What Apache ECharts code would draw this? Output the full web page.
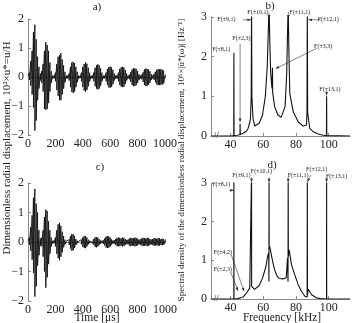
<!DOCTYPE html>
<html><head><meta charset="utf-8">
<script src="https://cdn.jsdelivr.net/npm/echarts@6/dist/echarts.min.js"></script>
<style>html,body{margin:0;padding:0;background:#fff}#c{width:352px;height:323px}</style>
</head><body><div id="c"></div>
<script>
// ---------- data ----------
const timeTicks = [0, 200, 400, 600, 800, 1000];
const freqTicks = [40, 60, 80, 100];
const dispTicks = [-2, -1, 0, 1, 2];
const specTicks = [0, 1, 2, 3];

const sampleTimes = [0,10,20,30,40,50,60,70,80,90,100,110,120,130,140,150,160,170,180,190,200,210,220,230,240,250,260,270,280,290,300,310,320,330,340,350,360,370,380,390,400,410,420,430,440,450,460,470,480,490,500,510,520,530,540,550,560,570,580,590,600,610,620,630,640,650,660,670,680,690,700,710,720,730,740,750,760,770,780,790,800,810,820,830,840,850,860,870,880,890,900,910,920,930,940,950,960,970,980,990,1000];

// panel a: upper / lower extremes of displacement
const aUpper = [0.03,0.15,0.55,0.9,1.55,1.8,1.3,0.7,0.35,0.12,0.2,0.45,0.9,1.2,1.1,0.9,0.5,0.2,0.05,0.05,0.15,0.45,0.7,0.75,0.82,0.6,0.4,0.18,0.05,0.05,0.12,0.35,0.5,0.52,0.48,0.35,0.18,0.05,0.04,0.15,0.35,0.45,0.5,0.46,0.32,0.15,0.05,0.05,0.15,0.32,0.4,0.44,0.4,0.3,0.15,0.05,0.05,0.15,0.28,0.34,0.36,0.33,0.25,0.12,0.05,0.06,0.15,0.28,0.33,0.35,0.33,0.24,0.12,0.05,0.08,0.16,0.26,0.3,0.3,0.28,0.2,0.1,0.05,0.08,0.16,0.26,0.29,0.28,0.26,0.2,0.1,0.05,0.1,0.18,0.25,0.27,0.27,0.27,0.25,0.22,0.05];
const aLower = [-0.03,-0.1,-0.3,-0.6,-1.05,-1.85,-1.5,-0.8,-0.4,-0.12,-0.2,-0.5,-1.1,-1.13,-1.1,-0.9,-0.5,-0.2,-0.05,-0.05,-0.15,-0.45,-0.65,-0.8,-0.8,-0.6,-0.4,-0.18,-0.05,-0.05,-0.12,-0.35,-0.52,-0.55,-0.5,-0.35,-0.18,-0.05,-0.04,-0.15,-0.35,-0.47,-0.51,-0.45,-0.32,-0.15,-0.05,-0.05,-0.15,-0.32,-0.4,-0.43,-0.4,-0.3,-0.15,-0.05,-0.05,-0.15,-0.28,-0.36,-0.37,-0.34,-0.25,-0.12,-0.05,-0.06,-0.15,-0.28,-0.33,-0.35,-0.34,-0.24,-0.12,-0.05,-0.08,-0.17,-0.28,-0.32,-0.31,-0.28,-0.2,-0.1,-0.05,-0.08,-0.17,-0.28,-0.31,-0.3,-0.27,-0.2,-0.1,-0.05,-0.1,-0.18,-0.26,-0.28,-0.28,-0.27,-0.26,-0.22,-0.05];

// panel c
const cUpper = [0.03,0.15,0.5,0.9,1.5,1.8,1.3,1.0,0.4,0.12,0.15,0.4,0.85,1.1,1.05,0.7,0.4,0.15,0.04,0.05,0.15,0.4,0.6,0.65,0.55,0.35,0.2,0.08,0.03,0.03,0.08,0.2,0.27,0.26,0.2,0.1,0.04,0.03,0.03,0.08,0.15,0.2,0.2,0.15,0.08,0.04,0.03,0.05,0.1,0.16,0.17,0.15,0.1,0.05,0.04,0.06,0.12,0.18,0.2,0.19,0.15,0.09,0.05,0.06,0.1,0.14,0.15,0.14,0.12,0.15,0.14,0.1,0.07,0.08,0.12,0.14,0.13,0.12,0.15,0.14,0.11,0.08,0.09,0.12,0.14,0.13,0.12,0.14,0.13,0.1,0.08,0.1,0.13,0.12,0.11,0.13,0.12,0.1,0.11,0.1,0.05];
const cLower = [-0.03,-0.1,-0.3,-0.6,-1.05,-1.85,-1.5,-0.8,-0.45,-0.12,-0.15,-0.5,-1.0,-1.55,-1.2,-0.75,-0.4,-0.15,-0.04,-0.05,-0.15,-0.4,-0.55,-0.62,-0.5,-0.35,-0.18,-0.08,-0.03,-0.03,-0.1,-0.22,-0.3,-0.28,-0.2,-0.1,-0.04,-0.03,-0.03,-0.08,-0.16,-0.2,-0.21,-0.15,-0.08,-0.04,-0.03,-0.05,-0.1,-0.17,-0.18,-0.15,-0.1,-0.05,-0.04,-0.06,-0.12,-0.19,-0.2,-0.19,-0.15,-0.09,-0.05,-0.06,-0.1,-0.14,-0.15,-0.14,-0.12,-0.15,-0.14,-0.1,-0.07,-0.08,-0.12,-0.14,-0.13,-0.12,-0.15,-0.14,-0.11,-0.08,-0.09,-0.12,-0.14,-0.13,-0.12,-0.14,-0.13,-0.1,-0.08,-0.1,-0.13,-0.12,-0.11,-0.13,-0.12,-0.1,-0.11,-0.1,-0.05];

// panel b spectrum
const specBFreq = [28,40,41.9,42,42.1,44,45.7,45.8,45.9,47.6,49.6,50.7,52.1,52.6,52.8,53.0,53.7,54.7,55.5,57.5,59.5,61.2,62.4,63.0,63.5,64.0,64.5,65.3,65.5,65.6,65.7,66.9,68.9,70.9,71.9,73.3,74.3,74.8,75.2,75.6,76.2,78.3,81.3,84.4,86.4,86.7,86.9,87.1,88.4,90.5,93.5,96.6,98.6,98.7,98.8,113];
const specBVal  = [0,0,0.01,2.1,0.01,0.02,0.03,0.31,0.04,0.07,0.12,0.19,0.41,1.0,3.3,1.0,0.45,0.25,0.21,0.32,0.53,0.99,1.75,2.6,3.3,2.3,1.58,1.2,1.15,1.72,1.1,0.74,0.53,0.47,0.49,0.74,1.58,2.6,3.3,2.2,1.07,0.61,0.36,0.25,0.28,0.6,3.3,0.6,0.19,0.11,0.05,0.02,0.01,1.0,0.01,0];

// panel d spectrum
const specDFreq = [28,41.95,42.0,42.05,44.5,46,47.6,49.6,50.6,51.7,52.3,52.75,52.8,52.85,53.5,54.6,55.8,57.5,59.5,61.6,62.6,63.3,63.42,63.5,63.58,63.9,64.9,65.9,66.9,68.3,69.6,72,74.0,74.8,75.1,75.2,75.3,75.8,77.2,79.2,81.3,83.3,85.4,86.8,86.9,87.0,87.4,89.5,92.5,95,98.65,98.7,98.75,113];
const specDVal  = [0,0,3.3,0,0.01,0.03,0.05,0.15,0.2,0.28,0.33,0.33,3.3,0.33,0.32,0.25,0.2,0.35,0.54,0.84,1.1,1.2,0.45,3.3,1.3,1.36,1.14,0.93,0.76,0.6,0.53,0.52,0.55,1.06,0.45,3.3,1.1,1.27,0.89,0.63,0.37,0.2,0.07,0.05,3.3,0.1,0.26,0.11,0.03,0.01,0,3.3,0,0];

// annotations (data coordinates)
const annBText = ['F(±8,1)','F(±2,3)','F(±9,1)','F(±10,1)','F(±11,1)','F(±12,1)','F(±3,3)','F(±13,1)'];
const annBLabel = [[34.3,2.18],[46.6,2.46],[37.4,2.93],[56.7,3.11],[82.3,3.11],[99.7,2.93],[96.6,2.25],[100.7,1.18]];
const annBFrom = [null,[45.8,2.32],[47.6,2.93],[63.5,3.1],[75.3,3.12],[94.8,2.93],[92.6,2.21],[98.7,1.13]];
const annBTo   = [null,[45.8,0.35],[52.4,2.93],[63.5,2.96],[75.3,2.96],[87.6,2.93],[67.6,1.7],[98.7,1.02]];

const annDText = ['F(±8,1)','F(±9,1)','F(±10,1)','F(±11,1)','F(±12,1)','F(±13,1)','F(±4,2)','F(±2,3)'];
const annDLabel = [[34.3,2.97],[46.6,3.19],[58.8,3.3],[81.3,3.19],[92.6,3.36],[104.8,3.17],[35.3,1.2],[35.3,0.76]];
const annDFrom = [[39.2,2.81],[52.8,3.15],[63.5,3.15],[75.2,3.15],[89.1,3.21],[98.7,3.15],[40.4,1.14],[40.0,0.7]];
const annDTo   = [[41.9,2.81],[52.8,3.02],[63.5,3.02],[75.2,3.02],[86.9,3.03],[98.7,3.02],[48.2,0.2],[44.5,0.21]];

// ---------- build ----------
const FONT = 'Liberation Serif';
const TXT = '#222';
const AX = '#8a8a8a';

function zig(times, up, lo) {
  const out = [];
  for (let i = 0; i < times.length; i++) { out.push([times[i], up[i]]); out.push([times[i], lo[i]]); }
  return out;
}
function pairs(xs, ys) { return xs.map((x, i) => [x, ys[i]]); }
const minus = v => String(v).replace('-', '\u2212');
const plain = v => String(v);

function xAx(gi, opts) {
  return Object.assign({
    gridIndex: gi, type: 'value',
    axisLine: { show: true, lineStyle: { color: AX, width: 1 } },
    axisTick: { show: true, inside: true, length: 3, lineStyle: { color: AX } },
    axisLabel: { margin: 3, fontFamily: FONT, fontSize: 12, color: TXT, formatter: plain },
    splitLine: { show: false }
  }, opts);
}
function yAx(gi, opts) {
  return Object.assign({
    gridIndex: gi, type: 'value',
    axisLine: { show: true, lineStyle: { color: AX, width: 1 } },
    axisTick: { show: true, inside: true, length: 3, lineStyle: { color: AX } },
    axisLabel: { margin: 4, fontFamily: FONT, fontSize: 12, color: TXT, formatter: minus },
    splitLine: { show: false }
  }, opts);
}

const chart = echarts.init(document.getElementById('c'), null, { renderer: 'canvas' });
chart.setOption({
  animation: false,
  backgroundColor: '#fff',
  grid: [
    { left: 28, top: 19, width: 137, height: 116 },
    { left: 211, top: 17, width: 139, height: 119 },
    { left: 28, top: 183, width: 137, height: 118 },
    { left: 211, top: 183, width: 139, height: 116 }
  ],
  xAxis: [
    xAx(0, { min: timeTicks[0], max: timeTicks[timeTicks.length - 1], interval: 200 }),
    xAx(1, { min: 28, max: 113, axisLabel: { margin: 3, fontFamily: FONT, fontSize: 12, color: TXT, formatter: plain, customValues: freqTicks }, axisTick: { show: true, inside: true, length: 3, lineStyle: { color: AX }, customValues: freqTicks } }),
    xAx(2, { min: timeTicks[0], max: timeTicks[timeTicks.length - 1], interval: 200 }),
    xAx(3, { min: 28, max: 113, axisLabel: { margin: 3, fontFamily: FONT, fontSize: 12, color: TXT, formatter: plain, customValues: freqTicks }, axisTick: { show: true, inside: true, length: 3, lineStyle: { color: AX }, customValues: freqTicks } })
  ],
  yAxis: [
    yAx(0, { min: dispTicks[0], max: dispTicks[dispTicks.length - 1], interval: 1 }),
    yAx(1, { min: specTicks[0], max: specTicks[specTicks.length - 1], interval: 1 }),
    yAx(2, { min: dispTicks[0], max: dispTicks[dispTicks.length - 1], interval: 1 }),
    yAx(3, { min: specTicks[0], max: specTicks[specTicks.length - 1], interval: 1 })
  ],
  series: [
    { type: 'line', xAxisIndex: 0, yAxisIndex: 0, data: zig(sampleTimes, aUpper, aLower), showSymbol: false, symbol: 'none', lineStyle: { color: '#111', width: 0.9 }, clip: true },
    { type: 'line', xAxisIndex: 1, yAxisIndex: 1, data: pairs(specBFreq, specBVal), showSymbol: false, symbol: 'none', lineStyle: { color: '#111', width: 1.1 }, clip: true },
    { type: 'line', xAxisIndex: 2, yAxisIndex: 2, data: zig(sampleTimes, cUpper, cLower), showSymbol: false, symbol: 'none', lineStyle: { color: '#111', width: 0.9 }, clip: true },
    { type: 'line', xAxisIndex: 3, yAxisIndex: 3, data: pairs(specDFreq, specDVal), showSymbol: false, symbol: 'none', lineStyle: { color: '#111', width: 1.1 }, clip: true }
  ]
});

// ---------- annotations & texts ----------
const g = [];
function txt(x, y, s, size, rot) {
  g.push({ type: 'text', x: x, y: y, rotation: rot || 0, silent: true,
    style: { text: s, fontFamily: FONT, fontSize: size, fill: TXT, align: 'center', verticalAlign: 'middle' } });
}
function arrow(p1, p2) {
  g.push({ type: 'line', silent: true, shape: { x1: p1[0], y1: p1[1], x2: p2[0], y2: p2[1] }, style: { stroke: '#333', lineWidth: 0.6 } });
  const a = Math.atan2(p2[1] - p1[1], p2[0] - p1[0]);
  const L = 3.5, W = 1.4;
  const bx = p2[0] - L * Math.cos(a), by = p2[1] - L * Math.sin(a);
  g.push({ type: 'polygon', silent: true, shape: { points: [[p2[0], p2[1]], [bx + W * Math.sin(a), by - W * Math.cos(a)], [bx - W * Math.sin(a), by + W * Math.cos(a)]] }, style: { fill: '#333' } });
}
function annotate(gi, texts, labels, froms, tos) {
  for (let i = 0; i < texts.length; i++) {
    const p = chart.convertToPixel({ gridIndex: gi }, labels[i]);
    txt(p[0], p[1], texts[i], 6);
    if (froms[i]) arrow(chart.convertToPixel({ gridIndex: gi }, froms[i]), chart.convertToPixel({ gridIndex: gi }, tos[i]));
  }
}
annotate(1, annBText, annBLabel, annBFrom, annBTo);
annotate(3, annDText, annDLabel, annDFrom, annDTo);

// break marks
[1, 3].forEach(gi => {
  const p = chart.convertToPixel({ gridIndex: gi }, [31.2, 0]);
  txt(p[0], p[1], '//', 9);
});

// panel letters and axis titles
txt(97, 7, 'a)', 11);
txt(270, 6, 'b)', 11);
txt(100, 167, 'c)', 11);
txt(272, 165, 'd)', 11);
txt(97, 318, 'Time [\u03bcs]', 11.5);
txt(282, 318, 'Frequency [kHz]', 11.5);
txt(7, 148, 'Dimensionless radial displacement, 10\u00b2\u00d7u*=u/H', 11, Math.PI / 2);
txt(182, 160, 'Spectral density of the dimensionless radial displacement, 10\u2076\u00d7|\u016b*(\u03c9)| [Hz\u207b\u00b9]', 9.2, Math.PI / 2);

chart.setOption({ graphic: g });
</script>
</body></html>
